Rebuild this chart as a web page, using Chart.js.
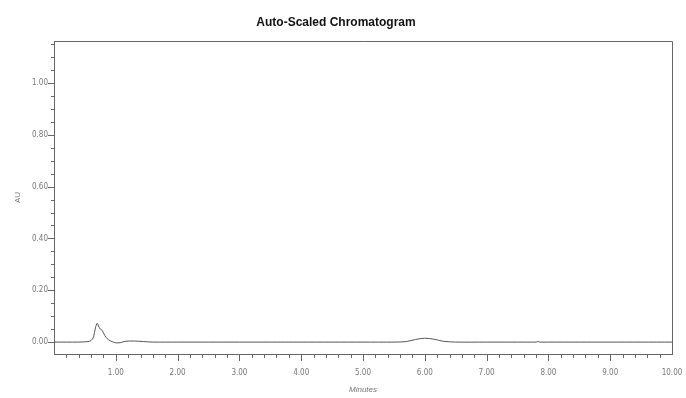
<!DOCTYPE html>
<html>
<head>
<meta charset="utf-8">
<script src="https://cdn.jsdelivr.net/npm/chart.js@4/dist/chart.umd.min.js"></script>
<style>
  html, body { margin: 0; padding: 0; background: #fff; }
</style>
</head>
<body>
<canvas id="myChart" width="686" height="398"></canvas>
<script>
// retention time (minutes) and absorbance (AU)
var minutes = [0, 0.2, 0.4, 0.55, 0.6, 0.64, 0.67, 0.7, 0.72, 0.75, 0.78, 0.82, 0.88, 0.95, 1.0, 1.08, 1.15, 1.3, 1.45, 1.6,
  2.0, 2.5, 3.0, 3.5, 4.0, 4.5, 5.0, 5.5, 5.7, 5.85, 6.0, 6.15, 6.3, 6.5, 7.0, 7.5, 7.8, 7.83, 7.86, 8.0, 8.5, 9.0, 9.5, 10.0];
var au = [0, 0, 0, 0.002, 0.006, 0.02, 0.055, 0.073, 0.062, 0.05, 0.045, 0.026, 0.009, 0.001, -0.003, -0.002, 0.003, 0.004, 0.002, 0,
  0, 0, 0, 0, 0, 0, 0, 0, 0.002, 0.01, 0.015, 0.011, 0.003, 0, 0, 0, 0, 0.002, 0, 0, 0, 0, 0, 0];

var xMajor = [1, 2, 3, 4, 5, 6, 7, 8, 9, 10];
var yLabels = [0, 0.2, 0.4, 0.6, 0.8, 1.0];

var tickFont = { family: "'Liberation Sans Narrow', 'DejaVu Sans Condensed', 'Liberation Sans', sans-serif", size: 8 };

// minor tick marks and the frame, drawn from the scales
var tickMarks = {
  id: "tickMarks",
  afterDraw: function (chart) {
    var ctx = chart.ctx;
    var xs = chart.scales.x, ys = chart.scales.y;
    var area = chart.chartArea;
    ctx.save();
    ctx.strokeStyle = "#666";
    ctx.lineWidth = 1;
    ctx.beginPath();
    ctx.moveTo(area.left, area.top + 0.5);
    ctx.lineTo(area.right + 0.5, area.top + 0.5);
    ctx.lineTo(area.right + 0.5, area.bottom);
    for (var i = 1; i < 50; i++) {
      var px = Math.round(xs.getPixelForValue(i * 0.2)) + 0.5;
      var len = (i % 5 === 0) ? 7 : 4;
      ctx.moveTo(px, area.bottom);
      ctx.lineTo(px, area.bottom + len);
    }
    for (var j = 0; j <= 23; j++) {
      var py = Math.round(ys.getPixelForValue(j * 0.05)) + 0.5;
      var l = (j % 4 === 0) ? 6 : 3;
      ctx.moveTo(area.left - l, py);
      ctx.lineTo(area.left, py);
    }
    ctx.stroke();
    ctx.restore();
  }
};

var ctx = document.getElementById("myChart").getContext("2d");
var myChart = new Chart(ctx, {
  type: "line",
  data: {
    labels: minutes,
    datasets: [
      {
        label: "AU",
        data: minutes.map(function (t, i) { return { x: t, y: au[i] }; }),
        borderColor: "#555",
        borderWidth: 1,
        pointRadius: 0,
        tension: 0.3,
        fill: false,
      },
    ],
  },
  options: {
    responsive: false,
    animation: false,
    layout: { padding: { left: 0, right: 14, top: 0, bottom: 0 } },
    plugins: {
      legend: { display: false },
      tooltip: { enabled: false },
      title: {
        display: true,
        text: "Auto-Scaled Chromatogram",
        color: "#111",
        font: { family: "'Liberation Sans', Arial, sans-serif", size: 12, weight: "bold" },
        padding: { top: 15, bottom: 11.6 },
      },
    },
    scales: {
      x: {
        type: "linear",
        min: 0,
        max: 10,
        afterBuildTicks: function (scale) {
          scale.ticks = xMajor.map(function (v) { return { value: v }; });
        },
        afterFit: function (scale) {
          scale.height = 44;
          scale.paddingLeft = 0;
          scale.paddingRight = 0;
        },
        grid: { display: false, drawTicks: false },
        border: { display: true, color: "#666", width: 1 },
        ticks: {
          color: "#777",
          font: tickFont,
          padding: 14,
          maxRotation: 0,
          autoSkip: false,
          callback: function (v) { return Number(v).toFixed(2); },
        },
        title: {
          display: true,
          text: "Minutes",
          color: "#777",
          font: { family: "'Liberation Sans', Arial, sans-serif", size: 8, style: "italic" },
          padding: { top: 0, bottom: 3 },
        },
      },
      y: {
        type: "linear",
        min: -0.046,
        max: 1.162,
        afterBuildTicks: function (scale) {
          scale.ticks = yLabels.map(function (v) { return { value: v }; });
        },
        afterFit: function (scale) {
          scale.width = 54;
          scale.paddingTop = 0;
          scale.paddingBottom = 0;
        },
        grid: { display: false, drawTicks: false },
        border: { display: true, color: "#666", width: 1 },
        ticks: {
          color: "#777",
          font: tickFont,
          padding: 6,
          autoSkip: false,
          callback: function (v) { return Number(v).toFixed(2); },
        },
        title: {
          display: true,
          text: "AU",
          color: "#777",
          font: { family: "'Liberation Sans', Arial, sans-serif", size: 8 },
          padding: { top: 13, bottom: 0 },
        },
      },
    },
  },
  plugins: [tickMarks],
});
</script>
</body>
</html>
